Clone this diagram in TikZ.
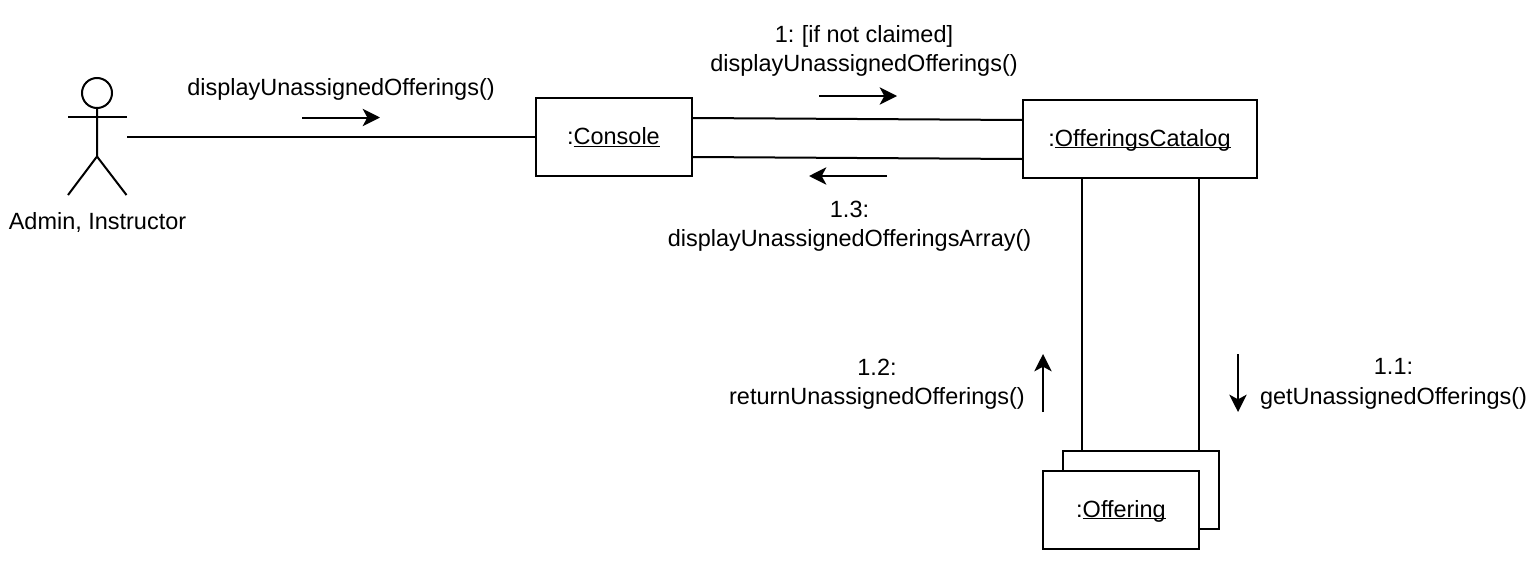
\documentclass[tikz,border=0pt]{standalone}
\usepackage{fontspec}
\setmainfont{Liberation Sans}
\usetikzlibrary{arrows.meta}
\newcommand{\ulx}[1]{\setbox0\hbox{#1}\rlap{\rule[-1.7pt]{\wd0}{0.8pt}}\box0 }
\tikzset{x=0.75pt,y=-0.75pt,
 objbox/.style={draw=black,line width=1.5pt,fill=white,inner sep=0pt,anchor=north west},
 lbl/.style={font=\fontsize{17.6pt}{22pt}\selectfont,align=center,inner sep=0pt,text=black},
 conn/.style={draw=black,line width=1.5pt},
 msg/.style={draw=black,line width=1.5pt,-{Stealth[length=13pt,width=13pt,inset=3.5pt]}}}
\begin{document}
\begin{tikzpicture}
\useasboundingbox[fill=white] (0,0) rectangle (1535,571);
% object boxes
\node[objbox,minimum width=117pt,minimum height=58.5pt] (console) at (535,97) {};
\node[lbl,yshift=0pt,xshift=-0.4pt] at (console.center) {:\ulx{Console}};
\node[objbox,minimum width=175.5pt,minimum height=58.5pt] (catalog) at (1022,99) {};
\node[lbl,yshift=-0.75pt,xshift=-0.4pt] at (catalog.center) {:\ulx{OfferingsCatalog}};
\node[objbox,minimum width=117pt,minimum height=58.5pt] (back) at (1062,450) {};
\node[objbox,minimum width=117pt,minimum height=58.5pt] (offering) at (1042,470) {};
\node[lbl,yshift=-0.75pt] at (offering.center) {:\ulx{Offering}};
% actor
\node[draw=black,line width=1.5pt,circle,minimum size=22.5pt,inner sep=0pt] (head) at (97,93) {};
\coordinate (hip) at (97,156.5);
\coordinate (armL) at (68,117);
\coordinate (armR) at (126.5,117);
\coordinate (footL) at (68,195);
\coordinate (footR) at (126.5,195);
\draw[conn] (head.south) -- (hip) -- (footL);
\draw[conn] (hip) -- (footR);
\draw[conn] (armL) -- (armR);
\node[lbl] (actor) at (97.5,222) {Admin, Instructor};
% links
\coordinate (actorEnd) at (127,137);
\coordinate (topL) at (0,118);
\coordinate (topR) at (0,120);
\coordinate (lowL) at (0,157);
\coordinate (lowR) at (0,159);
\coordinate (leftV) at (1082,0);
\coordinate (rightV) at (1199,0);
\draw[conn] (actorEnd) -- (console.west |- actorEnd);
\draw[conn] (console.east |- topL) -- (catalog.west |- topR);
\draw[conn] (console.east |- lowL) -- (catalog.west |- lowR);
\draw[conn] (leftV |- catalog.south) -- (leftV |- back.north);
\draw[conn] (rightV |- catalog.south) -- (rightV |- back.north);
% messages
\coordinate (m1a) at (302,117.5); \coordinate (m1b) at (380,117.5);
\coordinate (m2a) at (819,96); \coordinate (m2b) at (897,96);
\coordinate (m3a) at (887,176); \coordinate (m3b) at (809,176);
\coordinate (m4a) at (1043,412); \coordinate (m4b) at (1043,354);
\coordinate (m5a) at (1238,354); \coordinate (m5b) at (1238,412);
\draw[msg] (m1a) -- (m1b);
\draw[msg] (m2a) -- (m2b);
\draw[msg] (m3a) -- (m3b);
\draw[msg] (m4a) -- (m4b);
\draw[msg] (m5a) -- (m5b);
\node[lbl] (t1) at (341,89.5) {displayUnassignedOfferings()};
\node[lbl] (t2) at (864,51) {1:\hspace{-1pt} [if not claimed]\\displayUnassignedOfferings()};
\node[lbl] (t3) at (849.5,226.5) {1.3:\\displayUnassignedOfferingsArray()};
\node[lbl] (t4) at (877,384) {1.2:\\returnUnassignedOfferings()};
\node[lbl] (t5) at (1393.5,384) {1.1:\\getUnassignedOfferings()};
\end{tikzpicture}
\end{document}
